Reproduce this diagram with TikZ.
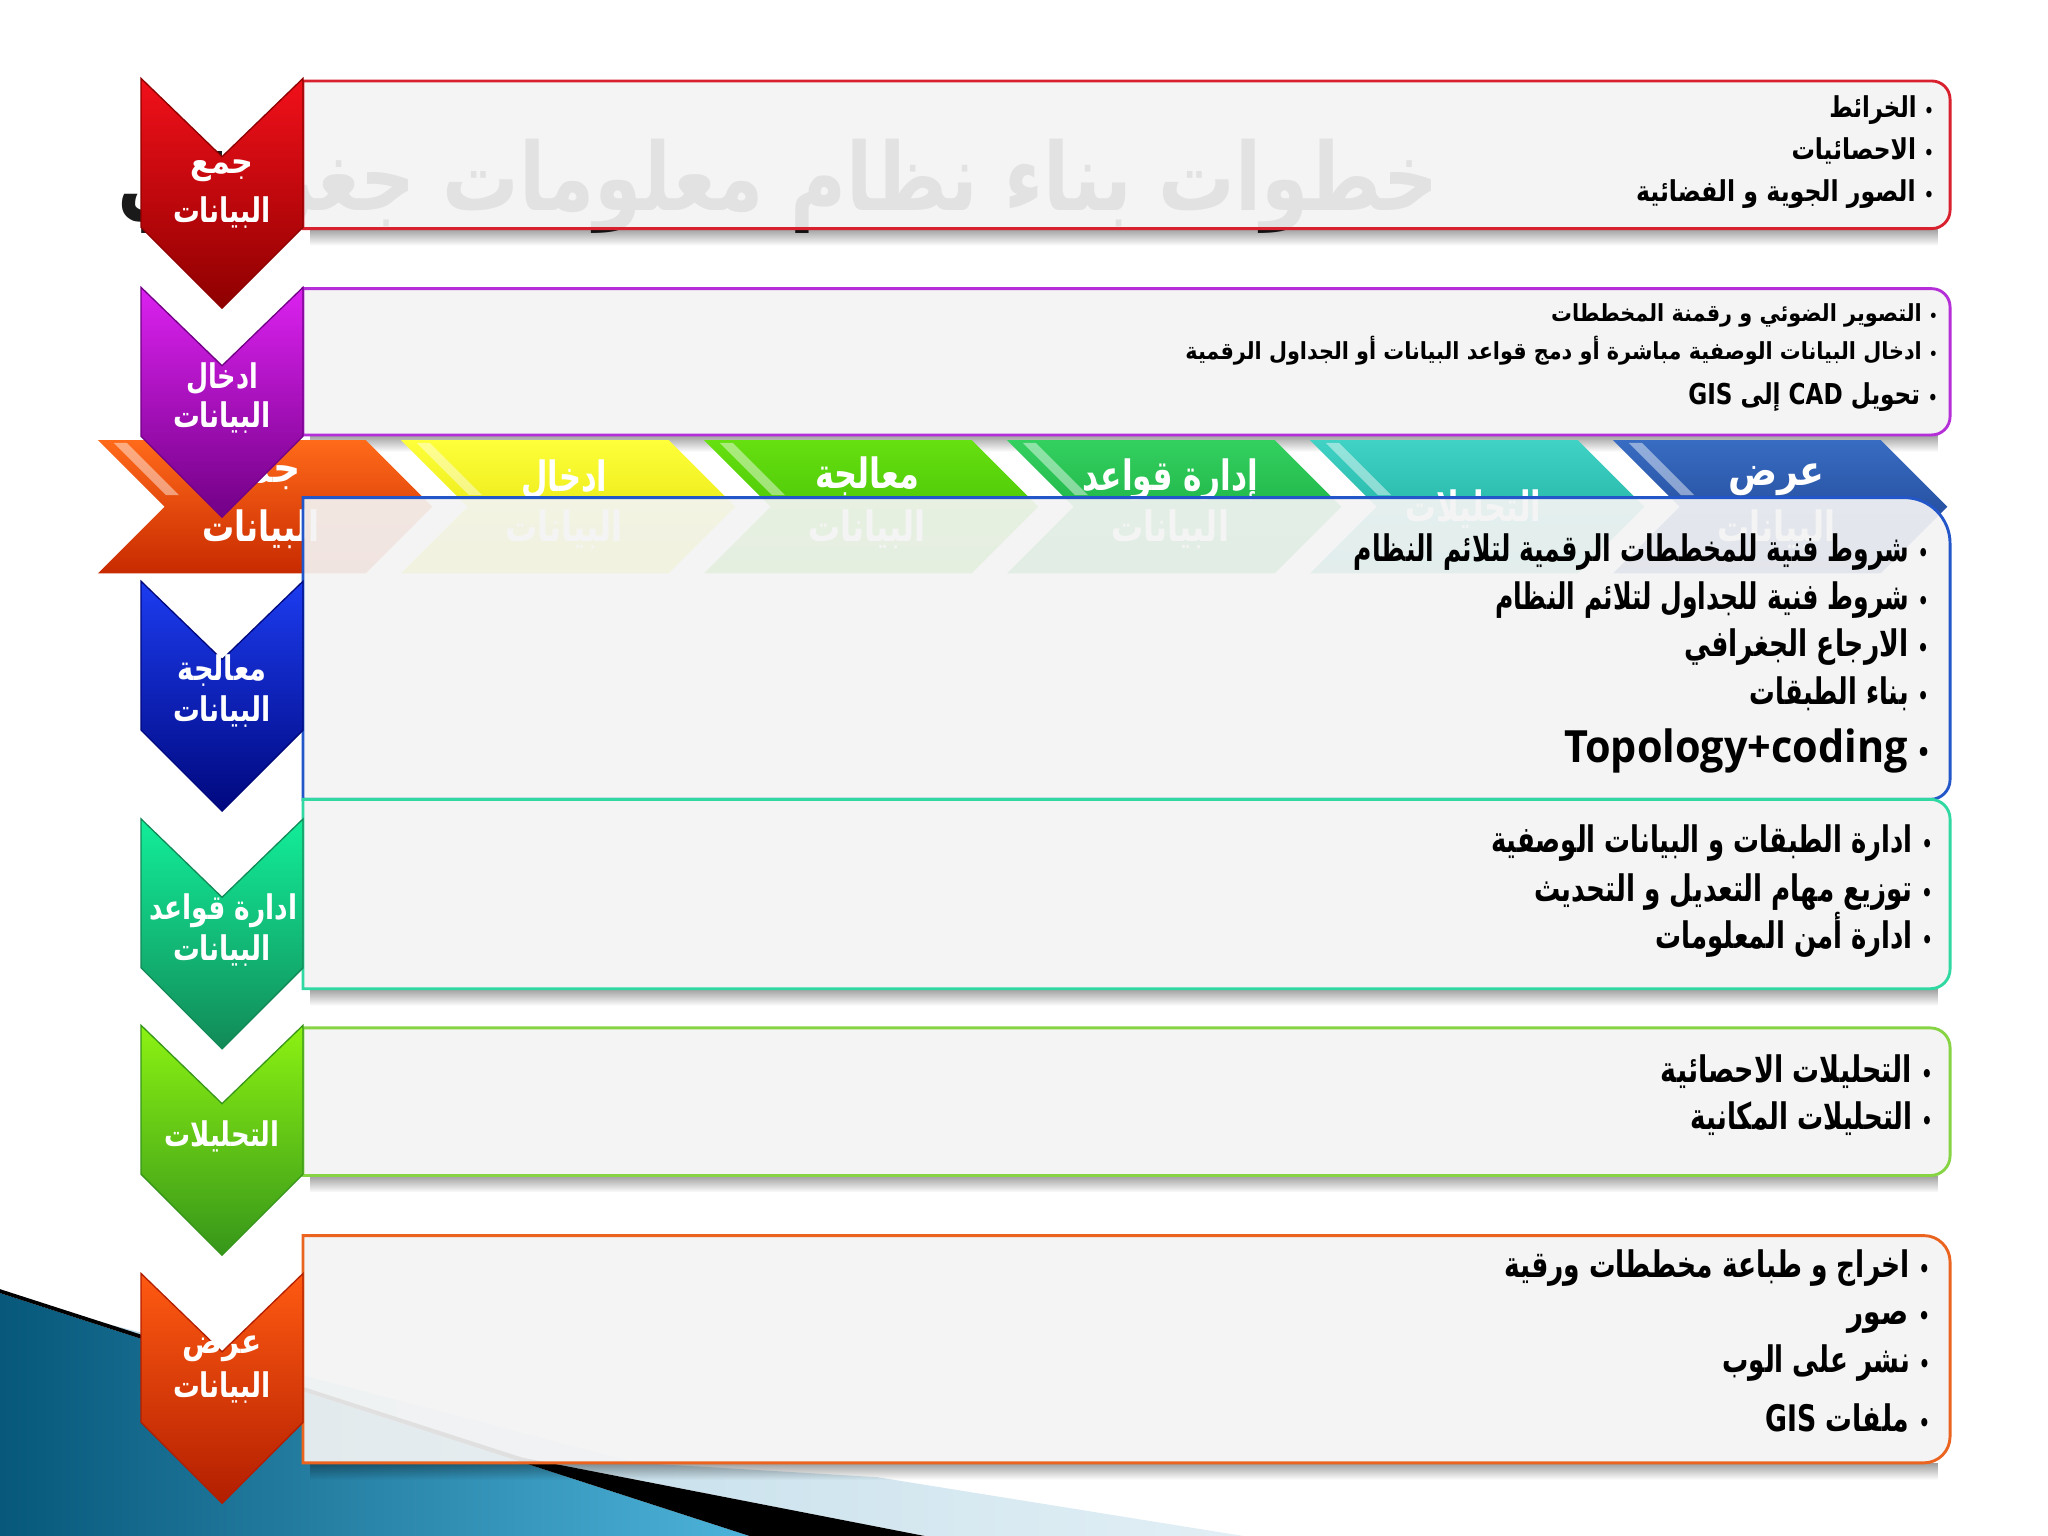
\documentclass[tikz,border=0pt]{standalone}
\usepackage{fontspec}
\usepackage{graphicx}
\usetikzlibrary{fadings}
\TeXXeTstate=1
\newfontfamily\arb[Script=Arabic]{DejaVu Sans}
\newfontfamily\latf{Open Sans}
\definecolor{boxgray}{HTML}{F4F4F4}
\definecolor{titlecol}{HTML}{1A1A1A}
\definecolor{decoA}{HTML}{07587A}
\definecolor{decoB}{HTML}{4DB3DA}
\definecolor{lightA}{HTML}{B5D6E5}
\definecolor{lightB}{HTML}{E2EFF5}
\definecolor{bAcol}{HTML}{D8202E}
\definecolor{bBcol}{HTML}{B52FD8}
\definecolor{bCcol}{HTML}{2356C8}
\definecolor{bDcol}{HTML}{30D8A2}
\definecolor{bEcol}{HTML}{86D444}
\definecolor{bFcol}{HTML}{EA6420}
\definecolor{cRa}{HTML}{F2101A}\definecolor{cRb}{HTML}{8E0000}
\definecolor{cPa}{HTML}{DC22F0}\definecolor{cPb}{HTML}{720086}
\definecolor{cBa}{HTML}{1C3CF0}\definecolor{cBb}{HTML}{00087E}
\definecolor{cTa}{HTML}{12EE9A}\definecolor{cTb}{HTML}{128A58}
\definecolor{cGa}{HTML}{8CF212}\definecolor{cGb}{HTML}{36961A}
\definecolor{cOa}{HTML}{FF5A12}\definecolor{cOb}{HTML}{B21E00}
\definecolor{sOa}{HTML}{FF6A1A}\definecolor{sOb}{HTML}{C82A00}
\definecolor{sYa}{HTML}{FFFF3A}\definecolor{sYb}{HTML}{DADA00}
\definecolor{sGa}{HTML}{66E010}\definecolor{sGb}{HTML}{38B400}
\definecolor{sHa}{HTML}{33D060}\definecolor{sHb}{HTML}{12A035}
\definecolor{sTa}{HTML}{40D2C4}\definecolor{sTb}{HTML}{14A496}
\definecolor{sBa}{HTML}{386CC2}\definecolor{sBb}{HTML}{1A3C88}
\tikzfading[name=fadedown, top color=transparent!0, bottom color=transparent!100]
\def\cursz{10}
\newcommand\bu{{\fontsize{\fpeval{0.65*\cursz}}{1}\selectfont •}}
\newcommand\artx[3]{{\def\cursz{#1}\arb\bfseries\fontsize{#1}{#1}\selectfont\resizebox{#2}{\height}{\beginR #3\endR}}}
\newcommand\mychev[3]{\shadedraw[top color=#2, bottom color=#3, draw=#3, line width=0.5pt] (108,#1) -- (170,{#1+60}) -- (232,#1) -- (232,{#1+114}) -- (170,{#1+176}) -- (108,{#1+114}) -- cycle;}
\newcommand\mybseg[3]{\shade[top color=#2, bottom color=#3] (#1,337) -- ({#1+205},337) -- ({#1+256},388) -- ({#1+205},439) -- (#1,439) -- ({#1+51},388) -- cycle;
 \fill[white, opacity=0.45] ({#1+12},339) -- ({#1+22},339) -- ({#1+62},379) -- ({#1+52},379) -- cycle;}
\newcommand\myshadow[3]{\fill[black, opacity=0.38, path fading=fadedown] ({#1+6},#3) rectangle ({#2-8},{#3+13});}
\tikzset{
  boxfill/.style={fill=boxgray, fill opacity=0.92, line width=1.1pt},
  bl/.style={anchor=base east, inner sep=0pt, text=black},
  wl/.style={anchor=center, inner sep=0pt, text=white},
}
\begin{document}
\begin{tikzpicture}[x=0.5pt,y=-0.5pt]
\useasboundingbox (0,0) rectangle (1568,1176);
\fill[white] (0,0) rectangle (1568,1176);
% bottom-left decoration
\shade[left color=decoA, right color=decoB] (0,990) -- (574,1176) -- (0,1176) -- cycle;
\shade[left color=lightA, right color=lightB] (80,1013) -- (488,1120) -- (672,1131) -- (952,1176) -- (708,1176) -- (400,1116) -- cycle;
\fill[black] (0,987) -- (400,1116) -- (708,1176) -- (574,1176) -- (0,990) -- cycle;
% watermark title
\node[anchor=base east, inner sep=0pt, text=titlecol] (title) at (1102,161) {\artx{36}{506pt}{خطوات بناء نظام معلومات جغرافي}};
% shadows
\myshadow{232}{1493}{175}
\myshadow{232}{1493}{333}
\myshadow{232}{1493}{757}
\myshadow{232}{1493}{900}
\myshadow{232}{1493}{1120}
% boxes 1,2
\draw[boxfill, draw=bAcol] (232,62) -- (1479,62) arc[start angle=-90,end angle=0,radius=14] -- (1493,161) arc[start angle=0,end angle=90,radius=14] -- (232,175) -- cycle;
\draw[boxfill, draw=bBcol] (232,221) -- (1479,221) arc[start angle=-90,end angle=0,radius=14] -- (1493,319) arc[start angle=0,end angle=90,radius=14] -- (232,333) -- cycle;
% banner
\mybseg{75}{sOa}{sOb}
\mybseg{307}{sYa}{sYb}
\mybseg{539}{sGa}{sGb}
\mybseg{771}{sHa}{sHb}
\mybseg{1003}{sTa}{sTb}
\mybseg{1235}{sBa}{sBb}
\node[wl] (bn1a) at (200,367) {\artx{16}{30pt}{جمع}};
\node[wl] (bn1b) at (200,405) {\artx{16}{45pt}{البيانات}};
\node[wl] (bn2a) at (432,367) {\artx{16}{33pt}{ادخال}};
\node[wl] (bn2b) at (432,405) {\artx{16}{45pt}{البيانات}};
\node[wl] (bn3a) at (664,365) {\artx{16}{40pt}{معالجة}};
\node[wl] (bn3b) at (664,405) {\artx{16}{45pt}{البيانات}};
\node[wl] (bn4a) at (896,367) {\artx{16}{67pt}{إدارة قواعد}};
\node[wl] (bn4b) at (896,405) {\artx{16}{45pt}{البيانات}};
\node[wl] (bn5a) at (1128,390) {\artx{16}{52pt}{التحليلات}};
\node[wl] (bn6a) at (1360,367) {\artx{16}{37pt}{عرض}};
\node[wl] (bn6b) at (1360,405) {\artx{16}{45pt}{البيانات}};
% boxes 3..6
\draw[boxfill, draw=bCcol] (232,381) -- (1458,381) arc[start angle=-90,end angle=0,radius=35] -- (1493,597) arc[start angle=0,end angle=90,radius=15] -- (232,612) -- cycle;
\draw[boxfill, draw=bDcol] (232,612) -- (1478,612) arc[start angle=-90,end angle=0,radius=15] -- (1493,742) arc[start angle=0,end angle=90,radius=15] -- (232,757) -- cycle;
\draw[boxfill, draw=bEcol] (232,787) -- (1478,787) arc[start angle=-90,end angle=0,radius=15] -- (1493,885) arc[start angle=0,end angle=90,radius=15] -- (232,900) -- cycle;
\draw[boxfill, draw=bFcol] (232,946) -- (1473,946) arc[start angle=-90,end angle=0,radius=20] -- (1493,1100) arc[start angle=0,end angle=90,radius=20] -- (232,1120) -- cycle;
% box 1 text
\node[bl] (a1) at (1481,90) {\artx{11}{40pt}{\bu\ الخرائط}};
\node[bl] (a2) at (1481,122) {\artx{11}{54.5pt}{\bu\ الاحصائيات}};
\node[bl] (a3) at (1481,154) {\artx{11}{114pt}{\bu\ الصور الجوية و الفضائية}};
% box 2 text
\node[bl] (b1) at (1484,246) {\artx{9}{148pt}{\bu\ التصوير الضوئي و رقمنة المخططات}};
\node[bl] (b2) at (1484,275) {\artx{9}{288pt}{\bu\ ادخال البيانات الوصفية مباشرة أو دمج قواعد البيانات أو الجداول الرقمية}};
\node[bl] (b3) at (1484,310) {\artx{11}{95.5pt}{\bu\ تحويل \beginL CAD\endL{} إلى \beginL GIS\endL}};
% box 3 text
\node[bl] (c1) at (1477,430) {\artx{14}{220pt}{\bu\ شروط فنية للمخططات الرقمية لتلائم النظام}};
\node[bl] (c2) at (1477,467) {\artx{14}{166pt}{\bu\ شروط فنية للجداول لتلائم النظام}};
\node[bl] (c3) at (1477,503) {\artx{14}{93.5pt}{\bu\ الارجاع الجغرافي}};
\node[bl] (c4) at (1477,539) {\artx{14}{68.5pt}{\bu\ بناء الطبقات}};
\node[bl] (c5) at (1477,584) {\def\cursz{17}\latf\bfseries\fontsize{17}{17}\selectfont\resizebox{139.5pt}{\height}{Topology+coding \bu}};
% box 4 text
\node[bl] (d1) at (1480,653) {\artx{14}{169pt}{\bu\ ادارة الطبقات و البيانات الوصفية}};
\node[bl] (d2) at (1480,690) {\artx{14}{152.5pt}{\bu\ توزيع مهام التعديل و التحديث}};
\node[bl] (d3) at (1480,726) {\artx{14}{106pt}{\bu\ ادارة أمن المعلومات}};
% box 5 text
\node[bl] (e1) at (1480,829) {\artx{14}{104pt}{\bu\ التحليلات الاحصائية}};
\node[bl] (e2) at (1480,865) {\artx{14}{92.5pt}{\bu\ التحليلات المكانية}};
% box 6 text
\node[bl] (f1) at (1478,978) {\artx{14}{163pt}{\bu\ اخراج و طباعة مخططات ورقية}};
\node[bl] (f2) at (1478,1014) {\artx{14}{31.5pt}{\bu\ صور}};
\node[bl] (f3) at (1478,1051) {\artx{14}{79.5pt}{\bu\ نشر على الوب}};
\node[bl] (f4) at (1478,1096) {\artx{14}{63pt}{\bu\ ملفات \beginL GIS\endL}};
% left chevrons
\mychev{60}{cRa}{cRb}
\mychev{220}{cPa}{cPb}
\mychev{445}{cBa}{cBb}
\mychev{627}{cTa}{cTb}
\mychev{785}{cGa}{cGb}
\mychev{975}{cOa}{cOb}
\node[wl] (k1a) at (170,131) {\artx{13}{24pt}{جمع}};
\node[wl] (k1b) at (170,163) {\artx{13}{37.5pt}{البيانات}};
\node[wl] (k2a) at (170,290) {\artx{13}{27.5pt}{ادخال}};
\node[wl] (k2b) at (170,320) {\artx{13}{37.5pt}{البيانات}};
\node[wl] (k3a) at (170,513) {\artx{13}{34pt}{معالجة}};
\node[wl] (k3b) at (170,545) {\artx{13}{37.5pt}{البيانات}};
\node[wl] (k4a) at (171,697) {\artx{13}{56.5pt}{ادارة قواعد}};
\node[wl] (k4b) at (170,728) {\artx{13}{37.5pt}{البيانات}};
\node[wl] (k5a) at (170,870) {\artx{13}{44pt}{التحليلات}};
\node[wl] (k6a) at (170,1033) {\artx{13}{30pt}{عرض}};
\node[wl] (k6b) at (170,1062) {\artx{13}{37.5pt}{البيانات}};
\end{tikzpicture}
\end{document}
